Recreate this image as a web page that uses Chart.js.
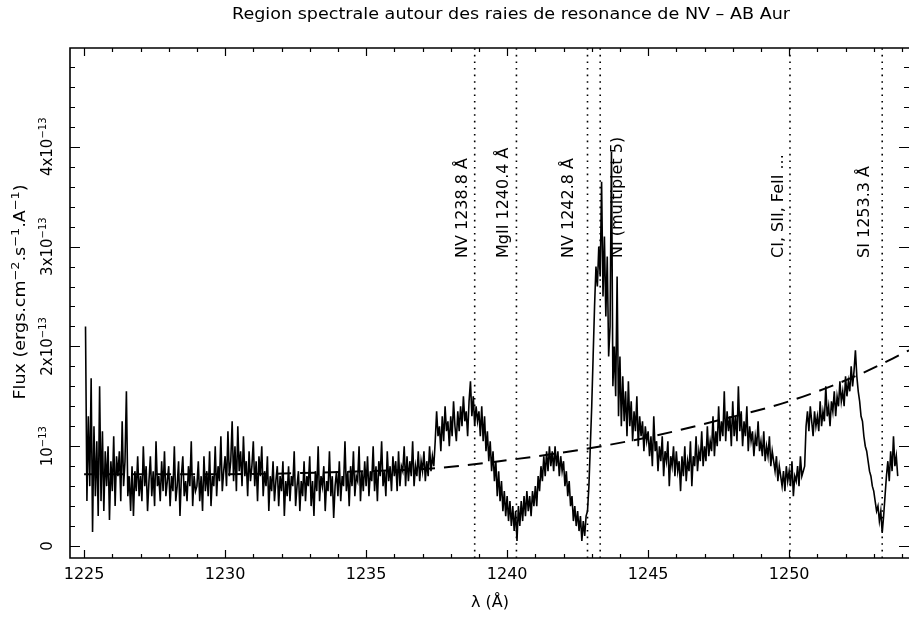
<!DOCTYPE html>
<html>
<head>
<meta charset="utf-8">
<script src="https://cdn.jsdelivr.net/npm/chart.js@4.4.0/dist/chart.umd.min.js"></script>
<style>
html, body { margin: 0; padding: 0; background: #fff; }
#wrap { width: 909px; height: 618px; }
</style>
</head>
<body>
<div id="wrap"><canvas id="spectre" width="909" height="618"></canvas></div>
<script>
// flux en unites de 1e-13 ergs/cm2/s/A, pas de 0.05 A a partir de 1225.05
const waveStart = 1225.05;
const waveStep = 0.05;
const flux = [
    /* 1225 */ 2.2, 0.45, 1.3, 0.6, 1.68, 0.14, 1.2, 0.5, 1.05, 0.3, 1.6, 0.45, 1.15, 0.35, 0.95, 0.6, 1.0, 0.26, 0.85,
    /* 1226 */ 0.55, 1.1, 0.4, 0.9, 0.7, 0.95, 0.45, 1.25, 0.6, 0.85, 1.55, 0.5, 0.7, 0.35, 0.8, 0.3, 0.75, 0.55, 0.9, 0.5,
    /* 1227 */ 0.7, 0.45, 1.0, 0.6, 0.8, 0.35, 0.65, 0.9, 0.5, 0.75, 0.4, 1.05, 0.6, 0.7, 0.45, 0.85, 0.55, 0.95, 0.5, 0.65,
    /* 1228 */ 0.8, 0.4, 0.7, 0.55, 1.0, 0.45, 0.6, 0.85, 0.3, 0.7, 0.9, 0.5, 0.65, 0.45, 0.8, 0.6, 1.05, 0.4, 0.7, 0.55,
    /* 1229 */ 0.6, 0.85, 0.45, 0.7, 0.35, 0.9, 0.55, 0.75, 0.5, 0.95, 0.4, 0.7, 0.6, 1.0, 0.5, 0.8, 0.65, 1.1, 0.55, 0.75,
    /* 1230 */ 0.9, 0.6, 1.15, 0.7, 0.85, 1.25, 0.65, 1.0, 0.55, 1.2, 0.75, 0.95, 0.6, 1.1, 0.7, 0.85, 0.5, 0.95, 0.65, 0.8,
    /* 1231 */ 1.05, 0.6, 0.85, 0.45, 0.9, 0.7, 1.0, 0.5, 0.75, 0.6, 0.9, 0.35, 0.7, 0.55, 0.85, 0.45, 0.65, 0.8, 0.4, 0.7,
    /* 1232 */ 0.55, 0.85, 0.3, 0.65, 0.5, 0.8, 0.45, 0.7, 0.6, 0.95, 0.4, 0.6, 0.75, 0.35, 0.65, 0.5, 0.85, 0.45, 0.7, 0.6,
    /* 1233 */ 0.9, 0.4, 0.65, 0.3, 0.75, 0.55, 1.0, 0.45, 0.7, 0.6, 0.8, 0.35, 0.65, 0.55, 0.95, 0.5, 0.7, 0.28, 0.6, 0.75,
    /* 1234 */ 0.5, 0.85, 0.45, 0.7, 0.6, 1.05, 0.55, 0.75, 0.4, 0.8, 0.6, 0.95, 0.5, 0.7, 0.65, 1.0, 0.45, 0.75, 0.55, 0.85,
    /* 1235 */ 0.6, 0.9, 0.5, 0.75, 0.65, 1.0, 0.55, 0.8, 0.45, 0.85, 0.7, 1.05, 0.6, 0.75, 0.5, 0.95, 0.65, 0.8, 0.55, 0.9,
    /* 1236 */ 0.7, 0.85, 0.55, 0.95, 0.6, 0.8, 0.75, 1.0, 0.6, 0.9, 0.65, 0.85, 0.7, 1.05, 0.6, 0.8, 0.7, 0.95, 0.65, 0.85,
    /* 1237 */ 0.75, 0.95, 0.65, 0.85, 0.7, 1.0, 0.75, 0.9, 0.8, 1.05, 1.35, 1.1, 1.2, 0.95, 1.3, 1.05, 1.4, 1.15, 1.25, 1.0,
    /* 1238 */ 1.3, 1.1, 1.45, 1.2, 1.05, 1.35, 1.15, 1.4, 1.2, 1.5, 1.25, 1.35, 1.1, 1.45, 1.65, 1.3, 1.5, 1.2, 1.4, 1.25,
    /* 1239 */ 1.35, 1.1, 1.4, 1.05, 1.3, 0.95, 1.15, 0.85, 1.05, 0.75, 0.95, 0.65, 0.85, 0.5, 0.75, 0.45, 0.65, 0.35, 0.55, 0.3,
    /* 1240 */ 0.5, 0.25, 0.45, 0.2, 0.4, 0.15, 0.35, 0.05, 0.4, 0.2, 0.45, 0.25, 0.5, 0.3, 0.55, 0.35, 0.5, 0.3, 0.55, 0.4,
    /* 1241 */ 0.6, 0.4, 0.7, 0.55, 0.8, 0.65, 0.9, 0.7, 0.95, 0.75, 1.0, 0.8, 0.95, 0.75, 1.0, 0.8, 0.95, 0.7, 0.9, 0.75,
    /* 1242 */ 0.85, 0.6, 0.75, 0.5, 0.65, 0.4, 0.5, 0.25, 0.4, 0.2, 0.35, 0.15, 0.3, 0.05, 0.25, 0.1, 0.3, 0.35, 0.6, 1.0,
    /* 1243 */ 1.4, 1.9, 2.4, 2.8, 2.6, 3.0, 2.7, 3.65, 2.5, 3.1, 2.3, 2.9, 1.9, 2.2, 3.95, 1.6, 2.0, 1.5, 2.7, 1.3,
    /* 1244 */ 1.9, 1.2, 1.7, 1.25, 1.55, 1.1, 1.65, 1.2, 1.45, 1.05, 1.35, 1.15, 1.5, 1.0, 1.3, 1.1, 1.25, 0.95, 1.2, 1.05,
    /* 1245 */ 1.15, 0.9, 1.1, 0.8, 1.3, 0.95, 1.05, 0.75, 1.0, 0.85, 1.1, 0.7, 0.95, 0.85, 1.05, 0.6, 0.9, 0.8, 1.0, 0.7,
    /* 1246 */ 0.95, 0.75, 0.85, 0.55, 0.9, 0.7, 1.0, 0.65, 0.85, 0.75, 1.05, 0.6, 0.9, 0.8, 1.1, 0.75, 0.95, 0.85, 1.15, 0.8,
    /* 1247 */ 1.0, 0.85, 1.2, 0.9, 1.05, 0.95, 1.3, 0.9, 1.15, 1.0, 1.4, 1.05, 1.25, 1.1, 1.55, 1.05, 1.35, 1.15, 1.3, 1.0,
    /* 1248 */ 1.45, 1.1, 1.3, 1.05, 1.6, 1.15, 1.35, 1.0, 1.25, 1.1, 1.4, 0.95, 1.2, 1.05, 1.15, 0.9, 1.1, 1.0, 1.25, 0.95,
    /* 1249 */ 1.05, 0.9, 1.15, 0.85, 1.0, 0.9, 1.1, 0.8, 0.95, 0.85, 0.75, 0.9, 0.65, 0.8, 0.7, 0.6, 0.75, 0.55, 0.8, 0.65,
    /* 1250 */ 0.75, 0.6, 0.85, 0.5, 0.7, 0.65, 0.8, 0.6, 0.9, 0.7, 0.75, 0.8, 1.2, 1.35, 1.15, 1.4, 1.25, 1.1, 1.35, 1.2,
    /* 1251 */ 1.3, 1.15, 1.45, 1.2, 1.35, 1.25, 1.6, 1.3, 1.4, 1.2, 1.45, 1.35, 1.55, 1.3, 1.5, 1.4, 1.65, 1.45, 1.55, 1.4,
    /* 1252 */ 1.7, 1.5, 1.65, 1.55, 1.8, 1.6, 1.75, 1.96, 1.7, 1.55, 1.45, 1.3, 1.25, 1.1, 1.0, 0.95, 0.85, 0.75, 0.7, 0.6,
    /* 1253 */ 0.55, 0.45, 0.35, 0.4, 0.25, 0.35, 0.13, 0.3, 0.5, 0.7, 0.85, 0.65, 0.95, 0.75, 1.1, 0.8, 0.9, 0.7
];

// continuum (tirets)
const contWave = [1225.0, 1230.0, 1235.0, 1237.5, 1240.0, 1242.5, 1245.0, 1247.5, 1250.0, 1252.5, 1254.25];
const contFlux = [0.72, 0.72, 0.75, 0.78, 0.86, 0.96, 1.09, 1.26, 1.45, 1.72, 1.96];

// raies identifiees
const lineWave = [1238.85, 1240.33, 1242.85, 1243.3, 1250.03, 1253.3];
const lineLabels = ["NV 1238.8 Å", "MgII 1240.4 Å", "NV 1242.8 Å", "NI (multiplet 5)", "CI, SII, FeII ...", "SI 1253.3 Å"];

// axes
const xMin = 1224.5, xMax = 1254.25;
const yMin = -0.12, yMax = 4.99;
const xMajorTicks = [1225, 1230, 1235, 1240, 1245, 1250];
const xMinorTicks = [1225, 1226, 1227, 1228, 1229, 1230, 1231, 1232, 1233, 1234, 1235, 1236, 1237, 1238, 1239,
    1240, 1241, 1242, 1243, 1244, 1245, 1246, 1247, 1248, 1249, 1250, 1251, 1252, 1253, 1254];
const yMajorTicks = [0, 1, 2, 3, 4];
const yMinorTicks = [0, 0.2, 0.4, 0.6, 0.8, 1, 1.2, 1.4, 1.6, 1.8, 2, 2.2, 2.4, 2.6, 2.8, 3, 3.2, 3.4, 3.6, 3.8,
    4, 4.2, 4.4, 4.6, 4.8];
const yTickLabels = [
    [["0", false]],
    [["10", false], ["−13", true]],
    [["2x10", false], ["−13", true]],
    [["3x10", false], ["−13", true]],
    [["4x10", false], ["−13", true]]
];

const titleText = "Region spectrale autour des raies de resonance de NV – AB Aur";
const xTitle = "λ (Å)";
const yTitle = [["Flux (ergs.cm", false], ["−2", true], [".s", false], ["−1", true], [".A", false], ["−1", true], [")", false]];

// --- style ---
const FONT = '"DejaVu Sans"';
const labelDx = [-13, -14, -20, 16, -13, -19];

function drawRich(ctx, parts, cx, cy, o) {
    const supSize = o.sup || Math.round(o.size * 0.68);
    let w = 0;
    parts.forEach(([t, s]) => {
        ctx.font = (s ? supSize : o.size) + "px " + FONT;
        w += ctx.measureText(t).width;
    });
    const sx = o.length ? o.length / w : 1;
    ctx.save();
    ctx.translate(cx, cy);
    if (o.vertical) ctx.rotate(-Math.PI / 2);
    ctx.scale(sx, 1);
    ctx.fillStyle = "#000";
    ctx.textAlign = "left";
    ctx.textBaseline = "alphabetic";
    let pos = o.align === "left" ? 0 : -w / 2;
    const baseY = o.size * 0.36;
    parts.forEach(([t, s]) => {
        ctx.font = (s ? supSize : o.size) + "px " + FONT;
        ctx.fillText(t, pos, s ? baseY - o.size * 0.45 : baseY);
        pos += ctx.measureText(t).width;
    });
    ctx.restore();
}

const cadre = {
    id: "cadre",
    afterDraw(chart) {
        const { ctx, chartArea: a, scales: { x, y } } = chart;
        ctx.save();
        ctx.strokeStyle = "#000";
        ctx.lineWidth = 1.6;
        ctx.beginPath();
        ctx.moveTo(a.right, a.top); ctx.lineTo(a.left, a.top);
        ctx.lineTo(a.left, a.bottom); ctx.lineTo(a.right, a.bottom);
        ctx.stroke();

        ctx.lineWidth = 1.2;
        ctx.beginPath();
        xMinorTicks.forEach(v => {
            const px = Math.round(x.getPixelForValue(v)) + 0.5;
            const len = xMajorTicks.includes(v) ? 8 : 4;
            ctx.moveTo(px, a.bottom); ctx.lineTo(px, a.bottom - len);
            ctx.moveTo(px, a.top); ctx.lineTo(px, a.top + len);
        });
        yMinorTicks.forEach(v => {
            const py = Math.round(y.getPixelForValue(v)) + 0.5;
            const len = yMajorTicks.includes(v) ? 10 : 5;
            ctx.moveTo(a.left, py); ctx.lineTo(a.left + len, py);
            ctx.moveTo(a.right, py); ctx.lineTo(a.right - len, py);
        });
        ctx.stroke();
        ctx.restore();

        yMajorTicks.forEach((v, i) => {
            drawRich(ctx, yTickLabels[i], 47, y.getPixelForValue(v), { size: 15, sup: 10, vertical: true });
        });
        drawRich(ctx, yTitle, 20, 292, { size: 15, sup: 11, vertical: true, length: 215 });

        lineWave.forEach((w, i) => {
            drawRich(ctx, [[lineLabels[i], false]], x.getPixelForValue(w) + labelDx[i], 258,
                { size: 16, vertical: true, align: "left" });
        });

        drawRich(ctx, [[titleText, false]], 511, 14, { size: 15, length: 558 });
        drawRich(ctx, [[xTitle, false]], 490, 601, { size: 16 });
    }
};

const spectrum = flux.map((f, i) => ({ x: waveStart + i * waveStep, y: f }));
const continuum = contWave.map((w, i) => ({ x: w, y: contFlux[i] }));
const lineSets = lineWave.map(w => ({
    data: [{ x: w, y: yMin }, { x: w, y: yMax }],
    borderColor: "#000",
    borderWidth: 1.6,
    borderDash: [1.6, 5],
    pointRadius: 0
}));

new Chart(document.getElementById("spectre"), {
    type: "line",
    data: {
        datasets: [
            {
                data: spectrum,
                borderColor: "#000",
                borderWidth: 1.6,
                pointRadius: 0,
                tension: 0
            },
            {
                data: continuum,
                borderColor: "#000",
                borderWidth: 2,
                borderDash: [15, 9],
                pointRadius: 0,
                cubicInterpolationMode: "monotone"
            },
            ...lineSets
        ]
    },
    options: {
        responsive: false,
        animation: false,
        devicePixelRatio: 1,
        layout: { padding: { top: 48, right: 0, left: 0, bottom: 0 } },
        plugins: { legend: { display: false }, tooltip: { enabled: false } },
        scales: {
            x: {
                type: "linear",
                min: xMin,
                max: xMax,
                grid: { display: false, drawTicks: false },
                border: { display: false },
                afterBuildTicks: s => { s.ticks = xMajorTicks.map(v => ({ value: v })); },
                afterFit: s => { s.height = 60; },
                ticks: {
                    autoSkip: false,
                    maxRotation: 0,
                    padding: 7,
                    color: "#000",
                    font: { family: "DejaVu Sans", size: 16 },
                    callback: v => String(v)
                }
            },
            y: {
                type: "linear",
                min: yMin,
                max: yMax,
                grid: { display: false, drawTicks: false },
                border: { display: false },
                ticks: { display: false },
                afterFit: s => { s.width = 70; }
            }
        }
    },
    plugins: [cadre]
});
</script>
</body>
</html>
